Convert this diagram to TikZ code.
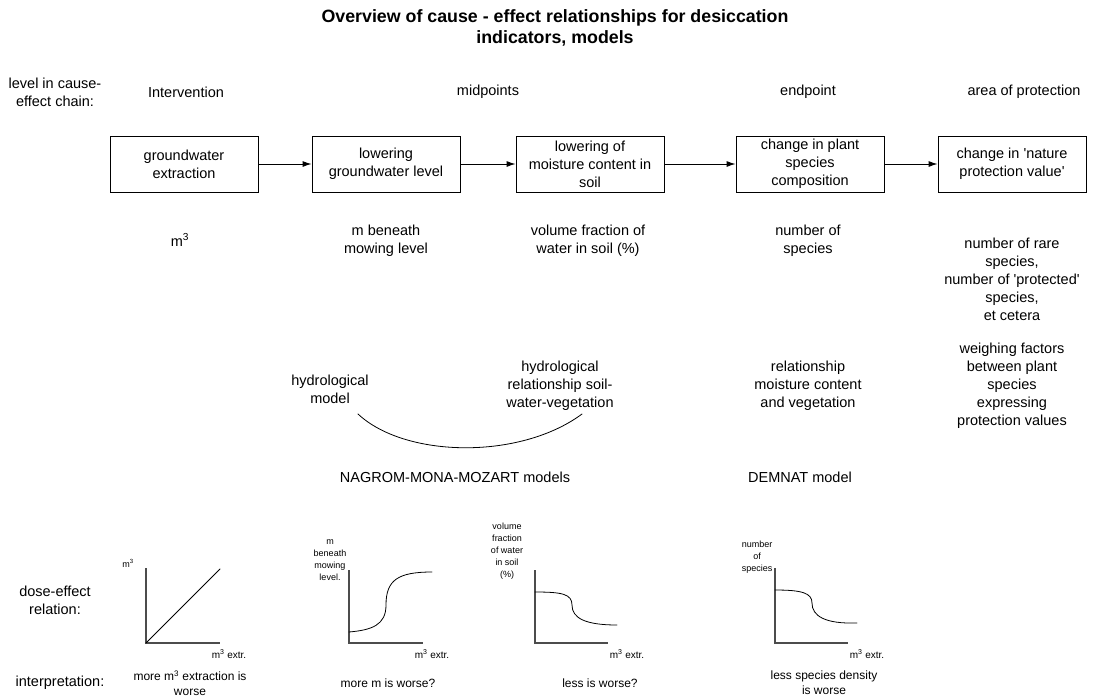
\documentclass[tikz,border=0pt]{standalone}
\usepackage{fontspec}
\setmainfont{Liberation Sans}
\usepackage{tikz}
\usetikzlibrary{arrows.meta,positioning}
\newcommand{\lblfont}{\fontsize{14.5}{18}\selectfont}
\newcommand{\ttlfont}{\fontsize{17.8}{21}\selectfont\bfseries}
\newcommand{\smlfont}{\fontsize{12}{15}\selectfont}
\newcommand{\axfont}{\fontsize{10}{12}\selectfont}
\newcommand{\tnyfont}{\fontsize{9}{12}\selectfont}
\tikzset{
  boxnd/.style={draw, line width=0.9pt, minimum width=148pt, minimum height=56pt, inner sep=0pt, align=center, font=\lblfont},
  lbl/.style={align=center, inner sep=0pt, font=\lblfont},
  smllbl/.style={align=center, inner sep=0pt, font=\smlfont},
  axlbl/.style={inner sep=0pt, font=\axfont},
  tnylbl/.style={align=center, inner sep=0pt, font=\tnyfont},
  flowarr/.style={-{Latex[length=9pt,width=6pt]}, line width=0.9pt},
  axisln/.style={line width=1.1pt, gray!60!black},
  curveln/.style={line width=0.8pt, line cap=round},
}
\newcommand{\m}{m\textsuperscript{3}}

\begin{document}
\begin{tikzpicture}[x=1pt, y=-1pt]
    \useasboundingbox (0,0) rectangle (1103,697);
    % title
    \node[align=center, inner sep=0pt, font=\ttlfont] (title) at (555,28)
      {Overview of cause - effect relationships for desiccation\\indicators, models};
    % chain levels
    \node[lbl] (lvl) at (55,92) {level in cause-\\effect chain:};
    \node[lbl] (intv) at (186,92) {Intervention};
    \node[lbl] (midp) at (488,92) {midpoints};
    \node[lbl] (endp) at (808,92) {endpoint};
    \node[lbl] (aop) at (1024,92) {area of protection};
    % boxes
    \node[boxnd] (extr) at (184,164) {groundwater\\extraction};
    \node[boxnd] (gwl) at (386,164) {lowering\\groundwater level};
    \node[boxnd] (moist) at (590,164) {lowering of\\moisture content in\\soil};
    \node[boxnd] (comp) at (810,164) {change in plant\\species\\composition};
    \node[boxnd] (nat) at (1012,164) {change in \textquotesingle nature\\protection value\textquotesingle};
    \draw[flowarr] (extr) -- (gwl);
    \draw[flowarr] (gwl) -- (moist);
    \draw[flowarr] (moist) -- (comp);
    \draw[flowarr] (comp) -- (nat);
    % units
    \node[lbl] (u1) at (180,240) {\m};
    \node[lbl] (u2) at (386,241) {m beneath\\mowing level};
    \node[lbl] (u3) at (588,241) {volume fraction of\\water in soil (\%)};
    \node[lbl] (u4) at (808,241) {number of\\species};
    \node[lbl] (u5) at (1012,279) {number of rare\\species,\\number of \textquotesingle protected\textquotesingle\\species,\\et cetera};
    \node[lbl] (wf) at (1012,386) {weighing factors\\between plant\\species\\expressing\\protection values};
    % models
    \node[lbl] (hydm) at (330,389) {hydrological\\model};
    \node[lbl] (hydr) at (560,386) {hydrological\\relationship soil-\\water-vegetation};
    \node[lbl] (relv) at (808,386) {relationship\\moisture content\\and vegetation};
    \draw[curveln] (358,414) .. controls (405,458) and (520,460) .. (582,414);
    \node[lbl] (nagr) at (455,477) {NAGROM-MONA-MOZART models};
    \node[lbl] (demn) at (800,477) {DEMNAT model};
    % dose-effect graphs
    \node[lbl] (dose) at (55,600) {dose-effect\\relation:};
    \draw[axisln] (146,568) -- (146,643) -- (220,643);
    \draw[curveln] (146,643) -- (220,569);
    \node[tnylbl] (g1y) at (128,563) {\m};
    \node[axlbl] (g1x) at (229,654) {\m\ extr.};
    \draw[axisln] (349,570) -- (349,643) -- (423,643);
    \draw[curveln] (349,632) .. controls (372,630) and (386,625) .. (386,605)
      .. controls (386,580) and (398,572) .. (432,572);
    \node[tnylbl] (g2y) at (330,560) {m\\beneath\\mowing\\level.};
    \node[axlbl] (g2x) at (432,654) {\m\ extr.};
    \draw[axisln] (535,570) -- (535,643) -- (608,643);
    \draw[curveln] (535,592) .. controls (562,592) and (572,594) .. (572,605)
      .. controls (572,618) and (585,625) .. (617,625);
    \node[tnylbl] (g3y) at (507,551) {volume\\fraction\\of water\\in soil\\(\%)};
    \node[axlbl] (g3x) at (627,654) {\m\ extr.};
    \draw[axisln] (775,568) -- (775,643) -- (848,643);
    \draw[curveln] (775,590) .. controls (802,590) and (812,593) .. (812,603)
      .. controls (812,616) and (825,624) .. (857,623);
    \node[tnylbl] (g4y) at (757,557) {number\\of\\species};
    \node[axlbl] (g4x) at (867,654) {\m\ extr.};
    % interpretation
    \node[lbl] (intp) at (60,683) {interpretation:};
    \node[smllbl] (i1) at (190,683) {more \m\ extraction is\\worse};
    \node[smllbl] (i2) at (388,683) {more m is worse?};
    \node[smllbl] (i3) at (600,683) {less is worse?};
    \node[smllbl] (i4) at (824,683) {less species density\\is worse};
\end{tikzpicture}
\end{document}
